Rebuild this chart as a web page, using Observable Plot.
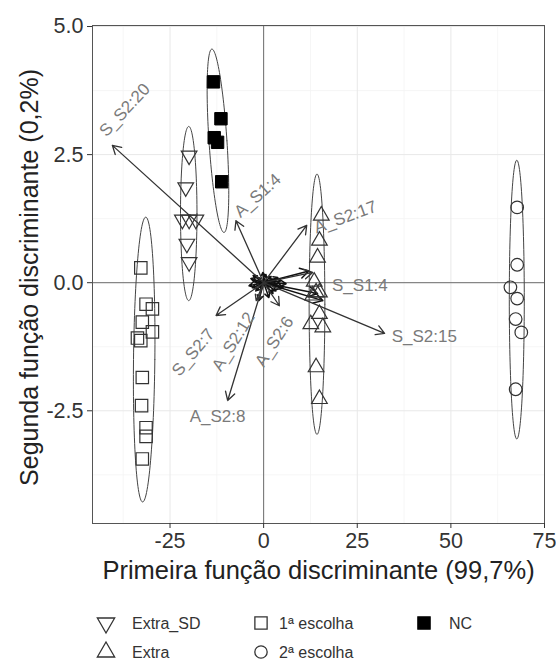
<!DOCTYPE html>
<html>
<head>
<meta charset="utf-8">
<script src="https://cdn.jsdelivr.net/npm/d3@7"></script>
<script src="https://cdn.jsdelivr.net/npm/@observablehq/plot@0.6"></script>
<style>
  html, body { margin: 0; padding: 0; background: #fff; }
  body { width: 556px; height: 664px; overflow: hidden; font-family: "Liberation Sans", Arial, sans-serif; }
</style>
</head>
<body>
<div id="chart"></div>
<div id="legend"></div>
<script>
// ---------- data ----------
const groups = ["Extra_SD", "Extra", "1ª escolha", "2ª escolha", "NC"];

const extraSD = [[-19.9, 2.48], [-20.8, 1.86], [-21.7, 1.23], [-19.9, 1.23], [-18.1, 1.23], [-20.5, 0.76], [-19.9, 0.40]];
const extra = [[15.4, 1.31], [14.9, 0.82], [14.4, 0.49], [13.5, 0.02], [14.0, -0.19], [13.1, -0.25], [14.9, -0.19],
               [14.9, -0.61], [12.6, -0.81], [15.8, -0.87], [14.0, -1.65], [14.9, -2.27]];
const primeira = [[-32.8, 0.29], [-31.4, -0.42], [-29.7, -0.51], [-32.4, -0.77], [-29.7, -0.96], [-33.7, -1.08],
                  [-32.8, -1.13], [-32.4, -1.85], [-32.6, -2.40], [-31.4, -2.83], [-31.4, -3.00], [-32.4, -3.44]];
const segunda = [[67.7, 1.47], [67.7, 0.35], [65.9, -0.09], [67.7, -0.31], [67.3, -0.71], [68.8, -0.97], [67.3, -2.08]];
const nc = [[-13.4, 3.92], [-11.4, 3.20], [-13.2, 2.83], [-12.3, 2.74], [-11.2, 1.97]];

// ellipses: group, centre x, centre y, half width, half height, shear (x per y)
const ellGroup = ["Extra_SD", "NC", "1ª escolha", "Extra", "2ª escolha"];
const ellCx = [-20.0, -12.2, -31.9, 14.25, 67.6];
const ellCy = [1.35, 2.77, -1.50, -0.42, -0.33];
const ellRx = [2.2, 2.4, 2.85, 2.1, 2.0];
const ellRy = [1.70, 1.79, 2.78, 2.54, 2.72];
const ellShear = [0, -0.9, 0.15, 0, 0];

// loading vectors (arrow tips)
const varNames = ["S_S2:20", "A_S1:4", "A_S2:17", "S_S1:4", "S_S2:15", "S_S2:7", "A_S2:12", "A_S2:6", "A_S2:8"];
const varX = [-40.4, -7.4, 11.5, 13.1, 32.3, -12.7, -2.0, 4.2, -9.6];
const varY = [2.68, 1.21, 1.12, 0.20, -0.99, -0.64, -0.35, -0.45, -2.30];
// short vectors packed around the origin
const shortX = [-3.4, -3.9, -2.1, 2.0, 3.3, 4.6, 6.0, 2.5, 1.4, -1.3, 12.1, 14.4, 15.8, -0.2, 3.8, -2.8, 5.2, 1.0,
                -1.5, -2.4, 1.8, 2.9, -0.8, 0.6, 3.6, -3.0];
const shortY = [0.08, -0.06, -0.16, 0.12, -0.16, 0.04, -0.02, -0.21, -0.29, -0.35, 0.23, -0.21, -0.35, 0.20, 0.10, 0.14, -0.10, 0.05,
                0.10, 0.02, -0.08, 0.06, -0.12, 0.16, -0.04, -0.10];

// label placement for the vectors
const labX = [-37.1, -1.6, 21.8, 25.7, 42.9, -18.8, -8.1, 2.85, -12.3];
const labY = [3.37, 1.70, 1.28, -0.06, -1.05, -1.36, -1.15, -1.15, -2.61];
const labAngle = [-47, -42, -20, 0, 0, -50, -58, -57, 0];

const xTicks = [-25, 0, 25, 50, 75];
const xMinor = [-37.5, -12.5, 12.5, 37.5, 62.5];
const yTicks = [-2.5, 0, 2.5, 5.0];
const yMinor = [-3.75, -1.25, 1.25, 3.75];

const xTitle = "Primeira função discriminante (99,7%)";
const yTitle = "Segunda função discriminante (0,2%)";

// ---------- derived tables ----------
const toRows = (arr) => arr.map(([x, y]) => ({x, y}));
const ellRows = [];
ellGroup.forEach((g, i) => {
  const n = 120;
  for (let k = 0; k <= n; k++) {
    const t = (2 * Math.PI * k) / n;
    const dy = ellRy[i] * Math.sin(t);
    ellRows.push({g, x: ellCx[i] + ellRx[i] * Math.cos(t) + ellShear[i] * dy, y: ellCy[i] + dy});
  }
});
const vecs = varNames.map((name, i) => ({name, x: varX[i], y: varY[i]}));
const shortVecs = shortX.map((x, i) => ({x, y: shortY[i]}));
const labels = varNames.map((name, i) => ({name, x: labX[i], y: labY[i], a: labAngle[i]}));

const font = "Liberation Sans, Arial, Helvetica, sans-serif";
const ink = "#333333";

const chart = Plot.plot({
  width: 556,
  height: 600,
  marginLeft: 92,
  marginRight: 12,
  marginTop: 25,
  marginBottom: 77,
  style: {fontFamily: font, background: "#fff"},
  x: {domain: [-45.7, 75], label: null},
  y: {domain: [-4.70, 5.02], label: null},
  marks: [
    Plot.ruleX(xMinor, {stroke: "#f4f4f4", strokeWidth: 0.8}),
    Plot.ruleY(yMinor, {stroke: "#f4f4f4", strokeWidth: 0.8}),
    Plot.ruleX(xTicks, {stroke: "#e8e8e8", strokeWidth: 1}),
    Plot.ruleY(yTicks, {stroke: "#e8e8e8", strokeWidth: 1}),
    Plot.ruleX([0], {stroke: "#6e6e6e", strokeWidth: 1}),
    Plot.ruleY([0], {stroke: "#6e6e6e", strokeWidth: 1}),
    Plot.frame({stroke: "#555", strokeWidth: 1}),
    Plot.axisX(xTicks, {tickSize: 5, tickPadding: 4, fontSize: 21.5, stroke: ink, fill: ink, tickFormat: d => String(d), label: null}),
    Plot.axisY(yTicks, {tickSize: 5, tickPadding: 4, fontSize: 21.5, stroke: ink, fill: ink, tickFormat: d => d.toFixed(1), label: null}),
    Plot.text([xTitle], {frameAnchor: "bottom", dy: 47, text: d => d, fontSize: 25.5, fill: "#222", lineAnchor: "middle", textAnchor: "middle"}),
    Plot.text([yTitle], {frameAnchor: "left", dx: -63, dy: 3, rotate: -90, text: d => d, fontSize: 25, fill: "#222", lineAnchor: "middle", textAnchor: "middle"}),
    Plot.line(ellRows, {x: "x", y: "y", z: "g", stroke: "#444", strokeWidth: 1, curve: "linear"}),
    Plot.arrow(shortVecs, {x1: d => 0, y1: d => 0, x2: "x", y2: "y", stroke: "#111", strokeWidth: 1.5, headLength: 10}),
    Plot.arrow(vecs, {x1: d => 0, y1: d => 0, x2: "x", y2: "y", stroke: "#333", strokeWidth: 1.3, headLength: 11}),
    Plot.text(labels, {x: "x", y: "y", text: "name", rotate: "a", fontSize: 17, fill: "#7a7a7a"}),
    Plot.dot(toRows(extraSD), {x: "x", y: "y", symbol: "triangle", rotate: 180, r: 5.8, stroke: ink, fill: "none", strokeWidth: 1.2}),
    Plot.dot(toRows(extra), {x: "x", y: "y", symbol: "triangle", r: 5.8, stroke: ink, fill: "none", strokeWidth: 1.2}),
    Plot.dot(toRows(primeira), {x: "x", y: "y", symbol: "square", r: 7.0, stroke: ink, fill: "none", strokeWidth: 1.2}),
    Plot.dot(toRows(segunda), {x: "x", y: "y", symbol: "circle", r: 6.3, stroke: ink, fill: "none", strokeWidth: 1.2}),
    Plot.dot(toRows(nc), {x: "x", y: "y", symbol: "square", r: 7.0, stroke: "#000", fill: "#000", strokeWidth: 1})
  ]
});
document.getElementById("chart").appendChild(chart);

// ---------- legend ----------
const legendItems = [
  {label: groups[0], sym: d3.symbolTriangle, rot: 180, fill: "none", col: 0, row: 0},
  {label: groups[1], sym: d3.symbolTriangle, rot: 0, fill: "none", col: 0, row: 1},
  {label: groups[2], sym: d3.symbolSquare, rot: 0, fill: "none", col: 1, row: 0},
  {label: groups[3], sym: d3.symbolCircle, rot: 0, fill: "none", col: 1, row: 1},
  {label: groups[4], sym: d3.symbolSquare, rot: 0, fill: "#000", col: 2, row: 0}
];
const symX = [106, 261, 424], txtX = [132, 279, 449], rowY = [23, 52];
const lsvg = d3.select("#legend").append("svg").attr("width", 556).attr("height", 64)
  .style("display", "block").style("font-family", font);
legendItems.forEach(it => {
  const size = it.sym === d3.symbolSquare ? 150 : it.sym === d3.symbolCircle ? 120 : 130;
  lsvg.append("path")
    .attr("d", d3.symbol(it.sym, size)())
    .attr("transform", `translate(${symX[it.col]},${rowY[it.row]}) rotate(${it.rot})`)
    .attr("fill", it.fill).attr("stroke", it.fill === "none" ? ink : "#000").attr("stroke-width", 1.3);
  lsvg.append("text").attr("x", txtX[it.col]).attr("y", rowY[it.row]).attr("dy", "0.35em")
    .attr("font-size", 16).attr("fill", ink).text(it.label);
});
</script>
</body>
</html>
